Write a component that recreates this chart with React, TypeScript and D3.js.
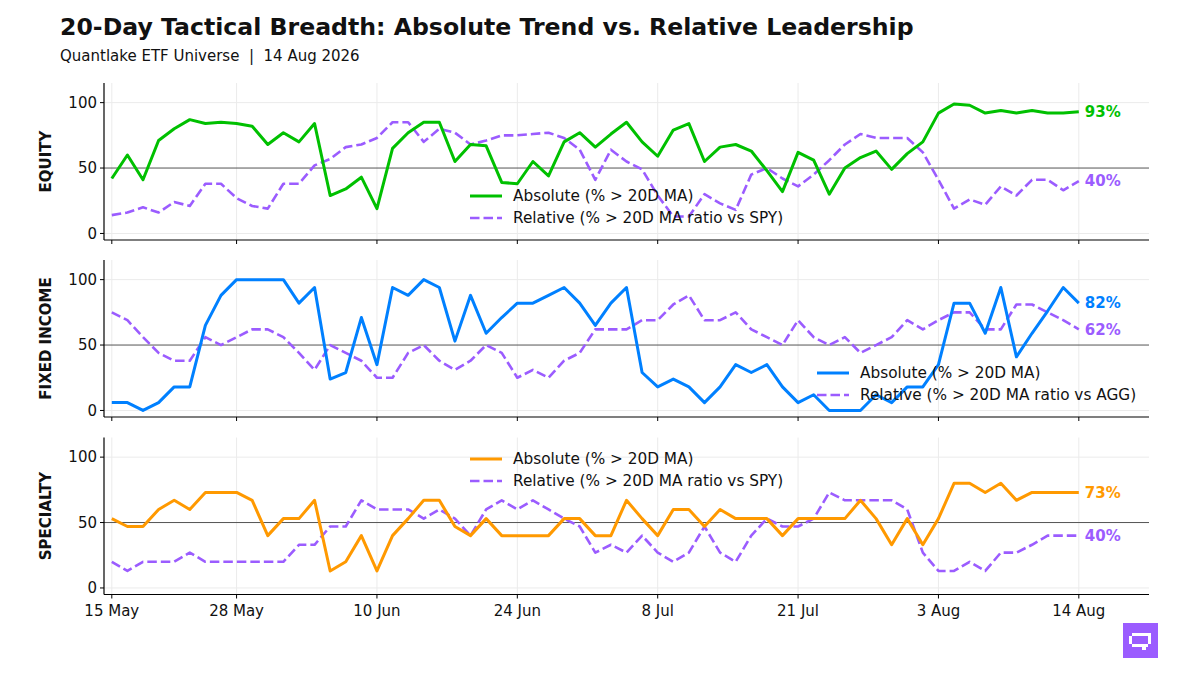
import React from "react";
import * as d3 from "d3";

// trading-day index 0..62 (15 May -> 14 Aug 2026)
const tickIndex = [0, 8, 17, 26, 35, 44, 53, 62];
const tickLabels = ["15 May", "28 May", "10 Jun", "24 Jun", "8 Jul", "21 Jul", "3 Aug", "14 Aug"];

const equityAbs = [
  42, 60, 41, 71, 80, 87, 84, 85, 84, 82, 68, 77, 70, 84, 29, 34, 43, 19, 65, 77, 85,
  85, 55, 68, 67, 39, 38, 55, 44, 70, 77, 66, 76, 85, 70, 59, 79, 84, 55, 66, 68, 63,
  48, 32, 62, 56, 30, 50, 58, 63, 49, 61, 70, 92, 99, 98, 92, 94, 92, 94, 92, 92, 93,
];
const equityRel = [
  14, 16, 20, 16, 24, 21, 38, 38, 27, 21, 19, 38, 38, 52, 57, 66, 68, 73, 85, 85, 70,
  80, 77, 68, 71, 75, 75, 76, 77, 73, 64, 41, 64, 55, 49, 29, 13, 13, 30, 23, 18, 45,
  50, 42, 36, 45, 56, 68, 76, 73, 73, 73, 62, 41, 19, 26, 22, 36, 29, 41, 41, 33, 40,
];
const fixedAbs = [
  6, 6, 0, 6, 18, 18, 65, 88, 100, 100, 100, 100, 82, 94, 24, 29, 71, 35, 94, 88, 100,
  94, 53, 88, 59, 71, 82, 82, 88, 94, 82, 65, 82, 94, 29, 18, 24, 18, 6, 18, 35, 29,
  35, 18, 6, 12, 0, 0, 0, 12, 6, 18, 18, 35, 82, 82, 59, 94, 41, 59, 76, 94, 82,
];
const fixedRel = [
  75, 69, 56, 44, 38, 38, 56, 50, 56, 62, 62, 56, 44, 31, 50, 44, 38, 25, 25, 44, 50,
  38, 31, 38, 50, 44, 25, 31, 25, 38, 44, 62, 62, 62, 69, 69, 81, 88, 69, 69, 75, 62,
  56, 50, 69, 56, 50, 56, 44, 50, 56, 69, 62, 69, 75, 75, 62, 62, 81, 81, 75, 69, 62,
];
const specAbs = [
  53, 47, 47, 60, 67, 60, 73, 73, 73, 67, 40, 53, 53, 67, 13, 20, 40, 13, 40, 53, 67,
  67, 47, 40, 53, 40, 40, 40, 40, 53, 53, 40, 40, 67, 53, 40, 60, 60, 47, 60, 53, 53,
  53, 40, 53, 53, 53, 53, 67, 53, 33, 53, 33, 53, 80, 80, 73, 80, 67, 73, 73, 73, 73,
];
const specRel = [
  20, 13, 20, 20, 20, 27, 20, 20, 20, 20, 20, 20, 33, 33, 47, 47, 67, 60, 60, 60, 53,
  60, 53, 40, 60, 67, 60, 67, 60, 53, 47, 27, 33, 27, 40, 27, 20, 27, 47, 27, 20, 40,
  53, 47, 47, 53, 73, 67, 67, 67, 67, 60, 27, 13, 13, 20, 13, 27, 27, 33, 40, 40, 40,
];

const GREEN = "#00c000";
const BLUE = "#0080ff";
const ORANGE = "#ff9900";
const PURPLE = "#9b5cff";
const FONT = "'DejaVu Sans', sans-serif";

interface Panel {
  name: string;
  abs: number[];
  rel: number[];
  color: string;
  relLabel: string;
  top: number;
  legendX: number;
  legendY: number;
  showX: boolean;
}

const panels: Panel[] = [
  { name: "EQUITY", abs: equityAbs, rel: equityRel, color: GREEN, relLabel: "Relative (% > 20D MA ratio vs SPY)", top: 83, legendX: 470, legendY: 196, showX: false },
  { name: "FIXED INCOME", abs: fixedAbs, rel: fixedRel, color: BLUE, relLabel: "Relative (% > 20D MA ratio vs AGG)", top: 260, legendX: 817, legendY: 373, showX: false },
  { name: "SPECIALTY", abs: specAbs, rel: specRel, color: ORANGE, relLabel: "Relative (% > 20D MA ratio vs SPY)", top: 437.5, legendX: 470, legendY: 459, showX: true },
];

const LEFT = 104;
const RIGHT = 1149;
const PH = 157;

const x = d3.scaleLinear().domain([-0.5, 66.5]).range([LEFT, RIGHT]);

const PanelView: React.FC<{ p: Panel }> = ({ p }) => {
  const bottom = p.top + PH;
  const y = d3.scaleLinear().domain([-5, 115]).range([bottom, p.top]);
  const line = d3
    .line<number>()
    .x((_, i) => x(i))
    .y((d) => y(d));
  const last = p.abs.length - 1;
  const dash = "9.5,4";
  return (
    <g>
      {/* grid */}
      {[0, 100].map((v) => (
        <line key={v} x1={LEFT} x2={RIGHT} y1={y(v)} y2={y(v)} stroke="#ebebeb" strokeWidth={1} />
      ))}
      {tickIndex.map((t) => (
        <line key={t} x1={x(t)} x2={x(t)} y1={p.top} y2={bottom} stroke="#ebebeb" strokeWidth={1} />
      ))}
      <line x1={LEFT} x2={RIGHT} y1={y(50)} y2={y(50)} stroke="#555" strokeWidth={1} />

      <path d={line(p.rel) ?? ""} fill="none" stroke={PURPLE} strokeWidth={2.6} strokeDasharray={dash} strokeLinejoin="round" />
      <path d={line(p.abs) ?? ""} fill="none" stroke={p.color} strokeWidth={3} strokeLinejoin="round" />

      {/* spines */}
      <line x1={LEFT} x2={LEFT} y1={p.top} y2={bottom} stroke="#000" strokeWidth={1.2} />
      <line x1={LEFT} x2={RIGHT} y1={bottom} y2={bottom} stroke="#000" strokeWidth={1.2} />

      {/* y ticks */}
      {[0, 50, 100].map((v) => (
        <g key={v}>
          <line x1={LEFT - 4} x2={LEFT} y1={y(v)} y2={y(v)} stroke="#000" strokeWidth={1} />
          <text x={LEFT - 7} y={y(v)} dy="0.35em" textAnchor="end" fontSize={15} fontFamily={FONT} fill="#111">
            {v}
          </text>
        </g>
      ))}
      {/* x ticks */}
      {tickIndex.map((t, i) => (
        <g key={t}>
          <line x1={x(t)} x2={x(t)} y1={bottom} y2={bottom + 4} stroke="#000" strokeWidth={1} />
          {p.showX && (
            <text x={x(t)} y={bottom + 21} textAnchor="middle" fontSize={15} fontFamily={FONT} fill="#111">
              {tickLabels[i]}
            </text>
          )}
        </g>
      ))}

      {/* panel label */}
      <text
        transform={`translate(51,${(p.top + bottom) / 2}) rotate(-90)`}
        textAnchor="middle"
        fontSize={15}
        fontWeight="bold"
        fontFamily={FONT}
        fill="#111"
      >
        {p.name}
      </text>

      {/* end labels */}
      <text x={x(last) + 6} y={y(p.abs[last])} dy="0.35em" fontSize={15} fontWeight="bold" fontFamily={FONT} fill={p.color}>
        {p.abs[last]}%
      </text>
      <text x={x(last) + 6} y={y(p.rel[last])} dy="0.35em" fontSize={15} fontWeight="bold" fontFamily={FONT} fill={PURPLE}>
        {p.rel[last]}%
      </text>

      {/* legend */}
      <line x1={p.legendX} x2={p.legendX + 32} y1={p.legendY} y2={p.legendY} stroke={p.color} strokeWidth={3} />
      <text x={p.legendX + 43} y={p.legendY} dy="0.35em" fontSize={15.3} fontFamily={FONT} fill="#111">
        Absolute (% &gt; 20D MA)
      </text>
      <line x1={p.legendX} x2={p.legendX + 32} y1={p.legendY + 22} y2={p.legendY + 22} stroke={PURPLE} strokeWidth={2.6} strokeDasharray={dash} />
      <text x={p.legendX + 43} y={p.legendY + 22} dy="0.35em" fontSize={15.3} fontFamily={FONT} fill="#111">
        {p.relLabel}
      </text>
    </g>
  );
};

const App: React.FC = () => {
  return (
    <svg width={1200} height={675} style={{ position: "absolute", left: 0, top: 0, background: "#fff" }}>
      <rect width={1200} height={675} fill="#fff" />
      <text x={60} y={34.5} fontSize={23.6} fontWeight="bold" fontFamily={FONT} fill="#111">
        20-Day Tactical Breadth: Absolute Trend vs. Relative Leadership
      </text>
      <text x={60} y={61} fontSize={15} fontFamily={FONT} fill="#111" style={{ whiteSpace: "pre" }}>
        {"Quantlake ETF Universe  |  14 Aug 2026"}
      </text>
      {panels.map((p) => (
        <PanelView key={p.name} p={p} />
      ))}
      {/* logo */}
      <g>
        <rect x={1123} y={623} width={35} height={35} fill={PURPLE} />
        <rect x={1132} y={633} width={19} height={3} fill="#fff" />
        <rect x={1129} y={636} width={3} height={8} fill="#fff" />
        <rect x={1148} y={636} width={3} height={8} fill="#fff" />
        <rect x={1132} y={644} width={16} height={3} fill="#fff" />
        <rect x={1142} y={647} width={4} height={3} fill="#fff" />
      </g>
    </svg>
  );
};

export default App;
